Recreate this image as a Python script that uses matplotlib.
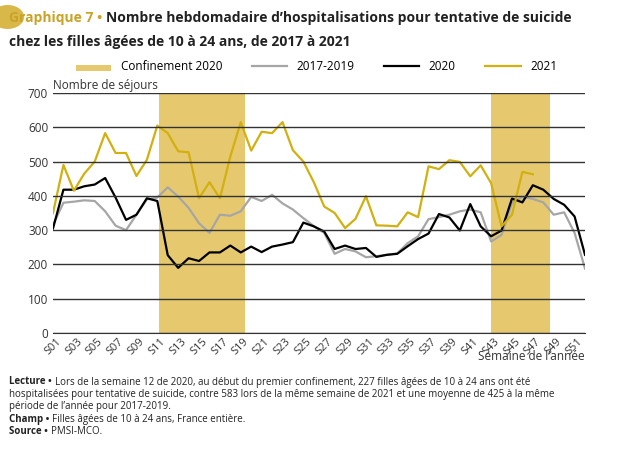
"""
Hospitalisations hebdomadaires pour tentative de suicide, filles de 10 à 24 ans
"""

import matplotlib.pyplot as plt
import numpy as np

weeks = list(range(1, 53))
tick_labels = [f'S{w:02d}' for w in range(1, 53, 2)]

ref_2017_2019 = [315, 380, 383, 387, 385, 355, 313, 300, 345, 390, 395, 425, 398, 365, 320, 292,
                 345, 342, 355, 397, 385, 403, 378, 360, 335, 312, 292, 231, 245, 238, 221, 224,
                 228, 232, 262, 282, 332, 338, 345, 355, 360, 352, 267, 286, 379, 397, 391, 381,
                 345, 352, 292, 188]
values_2020 = [305, 418, 418, 428, 433, 452, 395, 330, 345, 393, 385, 227, 190, 218, 210, 235,
               235, 255, 235, 252, 236, 252, 258, 265, 322, 311, 296, 245, 255, 245, 248, 222,
               228, 231, 253, 274, 290, 347, 337, 299, 376, 311, 282, 299, 392, 381, 431, 418,
               391, 374, 340, 228]
values_2021 = [350, 490, 415, 465, 500, 583, 525, 525, 458, 505, 605, 583, 530, 527, 393, 440,
               393, 515, 615, 532, 587, 583, 615, 533, 500, 440, 369, 350, 306, 333, 399, 314,
               313, 311, 352, 338, 486, 478, 504, 499, 457, 489, 437, 311, 345, 470, 463]
confinements = [(11.2, 19.4), (43.0, 48.6)]


def main() -> None:
    """
    Fonction principale
    """
    plt.rcParams['font.family'] = ['Open Sans', 'DejaVu Sans']
    fig = plt.figure(figsize=(6.33, 4.51), dpi=100)
    ax = fig.add_axes([53 / 633, 1 - 333 / 451, 532 / 633, 240 / 451])

    # Périodes de confinement
    for i, (start, end) in enumerate(confinements):
        ax.axvspan(start, end, color='#e6c96f', lw=0, label='Confinement 2020' if i == 0 else None)

    ax.plot(weeks, ref_2017_2019, color='#a6a6a6', lw=1.6, label='2017-2019')
    ax.plot(weeks, values_2020, color='black', lw=1.6, label='2020')
    ax.plot(weeks[:len(values_2021)], values_2021, color='#d1b010', lw=1.6, label='2021')

    ax.set_xlim(1, 52)
    ax.set_ylim(0, 700)
    ax.set_yticks(np.arange(0, 701, 100))
    ax.yaxis.grid(True, color='#333333', lw=1)
    ax.set_axisbelow(False)
    ax.set_xticks(range(1, 53, 2))
    ax.set_xticklabels(tick_labels, rotation=45, fontsize=8, color='#333333')
    ax.tick_params(axis='y', length=0, labelsize=8.5, colors='#333333')
    ax.tick_params(axis='x', length=0, pad=2)
    for side in ['top', 'right', 'left']:
        ax.spines[side].set_visible(False)
    ax.spines['bottom'].set_color('#333333')
    ax.text(0.0, 1.005, 'Nombre de séjours', transform=ax.transAxes, fontsize=8.5, color='#333333',
            va='bottom')
    ax.text(1.0, -0.1, "Semaine de l’année", transform=ax.transAxes, fontsize=8.5, color='#333333',
            ha='right', va='center')

    handles, labels = ax.get_legend_handles_labels()
    leg = fig.legend(handles, labels, loc='center', bbox_to_anchor=(0.5, 1 - 67 / 451), ncol=4,
                     frameon=False, fontsize=8.5, handlelength=3, columnspacing=2.5)
    for h in leg.legend_handles[:1]:
        h.set_height(4)

    # Titre
    fig.patches.append(plt.Circle((0.012, 1 - 17 / 451), 0.025, transform=fig.transFigure,
                                  color='#d9b84a', zorder=0))
    head = fig.text(0.015, 1 - 18 / 451, 'Graphique 7 • ', color='#c9a227', fontsize=10,
                    fontweight='bold', va='center')
    fig.canvas.draw()
    hw = head.get_window_extent().width / fig.bbox.width
    fig.text(0.015 + hw, 1 - 18 / 451, 'Nombre hebdomadaire d’hospitalisations pour tentative de suicide',
             color='#222222', fontsize=10, fontweight='bold', va='center')
    fig.text(0.015, 1 - 42 / 451, 'chez les filles âgées de 10 à 24 ans, de 2017 à 2021',
             color='#222222', fontsize=10, fontweight='bold', va='center')

    # Notes
    notes = [
        ('Lecture • ', 'Lors de la semaine 12 de 2020, au début du premier confinement, 227 filles âgées de 10 à 24 ans ont été'),
        ('', 'hospitalisées pour tentative de suicide, contre 583 lors de la même semaine de 2021 et une moyenne de 425 à la même'),
        ('', 'période de l’année pour 2017-2019.'),
        ('Champ • ', 'Filles âgées de 10 à 24 ans, France entière.'),
        ('Source • ', 'PMSI-MCO.'),
    ]
    y = 1 - 382 / 451
    for bold, txt in notes:
        t = fig.text(0.015, y, bold + txt, fontsize=7, color='#222222', va='center')
        if bold:
            t.set_text(txt)
            b = fig.text(0.015, y, bold, fontsize=7, fontweight='bold', color='#222222', va='center')
            fig.canvas.draw()
            w = b.get_window_extent().width / fig.bbox.width
            t.set_x(0.015 + w)
        y -= 12.5 / 451

    fig.savefig('out.png', dpi=100)


if __name__ == '__main__':
    main()
